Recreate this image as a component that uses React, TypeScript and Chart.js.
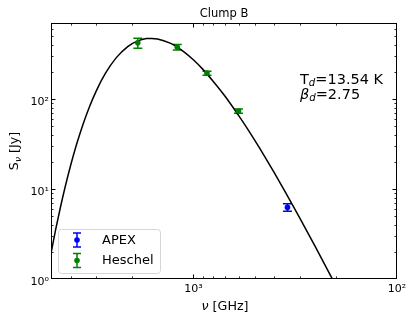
import React, { useEffect, useRef } from 'react';
import { Chart, registerables } from 'chart.js';

Chart.register(...registerables);

// ---- data ----
const chartTitle = 'Clump B';
const apexLabel = 'APEX';
const herschelLabel = 'Heschel';

const apexFreq = [345];
const apexFlux = [6.25];
const apexErr = [0.6];

const herschelFreq = [1874, 1199, 857, 600];
const herschelFlux = [421, 377, 194, 73.6];
const herschelErr = [53, 26, 10, 4];

const modelFreq = [5000, 4750, 4500, 4250, 4000, 3750, 3500, 3250, 3000, 2700, 2400, 2100, 1900, 1700, 1600, 1500, 1300, 1200, 1100, 1000, 900, 800, 700, 600, 550, 500, 450, 400, 350, 300, 250, 200];
const modelFlux = [1.93, 3.49, 6.19, 10.8, 18.5, 31.0, 50.6, 80.1, 122.6, 193.6, 285, 383, 437, 470, 472, 466, 418, 377, 328, 273, 215, 158, 108, 65.8, 49.0, 34.9, 23.7, 15.1, 8.91, 4.76, 2.22, 0.85];

const xTickValues = [1000, 100];
const xTickLabels = ['10³', '10²'];
const xMinorTicks = [200, 300, 400, 500, 600, 700, 800, 900, 2000, 3000, 4000, 5000];
const yTickValues = [1, 10, 100];
const yTickLabels = ['10⁰', '10¹', '10²'];
const yMinorTicks = [2, 3, 4, 5, 6, 7, 8, 9, 20, 30, 40, 50, 60, 70, 80, 90, 200, 300, 400, 500, 600, 700];

const tempText = '=13.54 K';
const betaText = '=2.75';

const FONT = '"DejaVu Sans", sans-serif';
const APEX_COLOR = '#0000ff';
const HERSCHEL_COLOR = '#008000';

type Run = { text: string; size: number; italic?: boolean; dy?: number };

function runsWidth(ctx: CanvasRenderingContext2D, runs: Run[]) {
  let w = 0;
  for (const r of runs) {
    ctx.font = `${r.italic ? 'italic ' : ''}${r.size}px ${FONT}`;
    w += ctx.measureText(r.text).width;
  }
  return w;
}

function drawRuns(ctx: CanvasRenderingContext2D, x: number, y: number, runs: Run[]) {
  let cx = x;
  ctx.textBaseline = 'alphabetic';
  ctx.textAlign = 'left';
  for (const r of runs) {
    ctx.font = `${r.italic ? 'italic ' : ''}${r.size}px ${FONT}`;
    ctx.fillText(r.text, cx, y + (r.dy || 0));
    cx += ctx.measureText(r.text).width;
  }
}

function drawErrorBar(ctx: CanvasRenderingContext2D, px: number, top: number, bot: number, color: string, cap: number) {
  ctx.strokeStyle = color;
  ctx.lineWidth = 1.5;
  ctx.beginPath();
  ctx.moveTo(px, top);
  ctx.lineTo(px, bot);
  ctx.moveTo(px - cap, top);
  ctx.lineTo(px + cap, top);
  ctx.moveTo(px - cap, bot);
  ctx.lineTo(px + cap, bot);
  ctx.stroke();
}

const sedPlugin = {
  id: 'sedPlugin',
  beforeDatasetsDraw(chart: any) {
    const { ctx, scales } = chart;
    const x = scales.x;
    const y = scales.y;
    const sets = [
      { f: apexFreq, v: apexFlux, e: apexErr, c: APEX_COLOR },
      { f: herschelFreq, v: herschelFlux, e: herschelErr, c: HERSCHEL_COLOR },
    ];
    ctx.save();
    for (const s of sets) {
      s.f.forEach((f, i) => {
        const px = x.getPixelForValue(f);
        const top = y.getPixelForValue(s.v[i] + s.e[i]);
        const bot = y.getPixelForValue(s.v[i] - s.e[i]);
        drawErrorBar(ctx, px, top, bot, s.c, 4.5);
      });
    }
    ctx.restore();
  },
  afterDraw(chart: any) {
    const { ctx, chartArea, scales } = chart;
    const { left, right, top, bottom } = chartArea;
    const x = scales.x;
    const y = scales.y;
    ctx.save();

    // frame
    ctx.strokeStyle = '#000';
    ctx.lineWidth = 1;
    ctx.strokeRect(left + 0.5, top + 0.5, right - left - 1, bottom - top - 1);

    // inward ticks on all four sides
    const tick = (vals: number[], len: number, horiz: boolean, lw: number) => {
      ctx.lineWidth = lw;
      ctx.beginPath();
      for (const v of vals) {
        if (horiz) {
          const p = Math.round(x.getPixelForValue(v)) + 0.5;
          if (p < left || p > right) continue;
          ctx.moveTo(p, bottom);
          ctx.lineTo(p, bottom - len);
          ctx.moveTo(p, top);
          ctx.lineTo(p, top + len);
        } else {
          const p = Math.round(y.getPixelForValue(v)) + 0.5;
          if (p < top || p > bottom) continue;
          ctx.moveTo(left, p);
          ctx.lineTo(left + len, p);
          ctx.moveTo(right, p);
          ctx.lineTo(right - len, p);
        }
      }
      ctx.stroke();
    };
    tick(xTickValues, 4.5, true, 1);
    tick(xMinorTicks, 2.6, true, 0.8);
    tick(yTickValues, 4.5, false, 1);
    tick(yMinorTicks, 2.6, false, 0.8);

    ctx.fillStyle = '#000';

    // title
    ctx.font = `11.5px ${FONT}`;
    ctx.textAlign = 'center';
    ctx.textBaseline = 'alphabetic';
    ctx.fillText(chartTitle, (left + right) / 2, 16.7);

    // x axis title
    const xRuns: Run[] = [
      { text: 'ν', size: 12.7, italic: true },
      { text: ' [GHz]', size: 12.7 },
    ];
    const xw = runsWidth(ctx, xRuns);
    drawRuns(ctx, (left + right) / 2 + 1 - xw / 2, 309.5, xRuns);

    // y axis title
    const yRuns: Run[] = [
      { text: 'S', size: 12.7 },
      { text: 'ν', size: 9, italic: true, dy: 2.5 },
      { text: ' [Jy]', size: 12.7 },
    ];
    const yw = runsWidth(ctx, yRuns);
    ctx.save();
    ctx.translate(18.3, (top + bottom) / 2);
    ctx.rotate(-Math.PI / 2);
    drawRuns(ctx, -yw / 2, 0, yRuns);
    ctx.restore();

    // annotation
    drawRuns(ctx, 300, 83.5, [
      { text: 'T', size: 14.5 },
      { text: 'd', size: 10.2, italic: true, dy: 2.5 },
      { text: tempText, size: 14.5 },
    ]);
    drawRuns(ctx, 300, 98.5, [
      { text: 'β', size: 14.5, italic: true },
      { text: 'd', size: 10.2, italic: true, dy: 2.5 },
      { text: betaText, size: 14.5 },
    ]);

    // legend
    const lx = 58.5, ly = 229.5, lw = 102, lh = 44, r = 3;
    ctx.beginPath();
    ctx.moveTo(lx + r, ly);
    ctx.lineTo(lx + lw - r, ly);
    ctx.quadraticCurveTo(lx + lw, ly, lx + lw, ly + r);
    ctx.lineTo(lx + lw, ly + lh - r);
    ctx.quadraticCurveTo(lx + lw, ly + lh, lx + lw - r, ly + lh);
    ctx.lineTo(lx + r, ly + lh);
    ctx.quadraticCurveTo(lx, ly + lh, lx, ly + lh - r);
    ctx.lineTo(lx, ly + r);
    ctx.quadraticCurveTo(lx, ly, lx + r, ly);
    ctx.closePath();
    ctx.fillStyle = 'rgba(255,255,255,0.8)';
    ctx.fill();
    ctx.strokeStyle = '#d6d6d6';
    ctx.lineWidth = 1;
    ctx.stroke();

    const entries = [
      { label: apexLabel, color: APEX_COLOR, cy: 240 },
      { label: herschelLabel, color: HERSCHEL_COLOR, cy: 260.5 },
    ];
    for (const e of entries) {
      drawErrorBar(ctx, 77, e.cy - 7, e.cy + 7, e.color, 4);
      ctx.fillStyle = e.color;
      ctx.beginPath();
      ctx.arc(77, e.cy, 2.8, 0, Math.PI * 2);
      ctx.fill();
      ctx.fillStyle = '#000';
      ctx.font = `13px ${FONT}`;
      ctx.textAlign = 'left';
      ctx.textBaseline = 'middle';
      ctx.fillText(e.label, 102, e.cy + 0.5);
    }

    ctx.restore();
  },
};

export default function App() {
  const canvasRef = useRef<HTMLCanvasElement | null>(null);

  useEffect(() => {
    const canvas = canvasRef.current;
    if (!canvas) return;
    const chart = new Chart(canvas, {
      type: 'scatter',
      data: {
        datasets: [
          {
            label: apexLabel,
            data: apexFreq.map((f, i) => ({ x: f, y: apexFlux[i] })),
            backgroundColor: APEX_COLOR,
            borderColor: APEX_COLOR,
            pointRadius: 2.8,
            pointBorderWidth: 0,
          },
          {
            label: herschelLabel,
            data: herschelFreq.map((f, i) => ({ x: f, y: herschelFlux[i] })),
            backgroundColor: HERSCHEL_COLOR,
            borderColor: HERSCHEL_COLOR,
            pointRadius: 2.8,
            pointBorderWidth: 0,
          },
          {
            label: 'model',
            data: modelFreq.map((f, i) => ({ x: f, y: modelFlux[i] })),
            showLine: true,
            borderColor: '#000',
            borderWidth: 1.5,
            pointRadius: 0,
            tension: 0.4,
            cubicInterpolationMode: 'monotone',
            clip: 0,
            order: 1,
          } as any,
        ],
      },
      options: {
        responsive: false,
        animation: false,
        events: [],
        layout: { padding: { top: 23, right: 18, bottom: 0, left: 0 } },
        plugins: {
          legend: { display: false },
          title: { display: false },
          tooltip: { enabled: false },
        },
        scales: {
          x: {
            type: 'logarithmic',
            reverse: true,
            min: 100,
            max: 5000,
            grid: { display: false, drawTicks: false },
            border: { display: false },
            afterBuildTicks: (scale: any) => {
              scale.ticks = xTickValues.map((v) => ({ value: v }));
            },
            afterFit: (scale: any) => {
              scale.height = 42;
            },
            ticks: {
              autoSkip: false,
              maxRotation: 0,
              padding: 4,
              color: '#000',
              font: { family: FONT, size: 11 },
              callback: (v: any) => {
                const i = xTickValues.indexOf(Number(v));
                return i >= 0 ? xTickLabels[i] : '';
              },
            },
          },
          y: {
            type: 'logarithmic',
            min: 1,
            max: 700,
            grid: { display: false, drawTicks: false },
            border: { display: false },
            afterBuildTicks: (scale: any) => {
              scale.ticks = yTickValues.map((v) => ({ value: v }));
            },
            afterFit: (scale: any) => {
              scale.width = 51;
            },
            ticks: {
              autoSkip: false,
              padding: 2,
              labelOffset: 3.5,
              color: '#000',
              font: { family: FONT, size: 11 },
              callback: (v: any) => {
                const i = yTickValues.indexOf(Number(v));
                return i >= 0 ? yTickLabels[i] : '';
              },
            },
          },
        },
      },
      plugins: [sedPlugin],
    } as any);
    return () => chart.destroy();
  }, []);

  return (
    <div style={{ position: 'fixed', left: 0, top: 0, width: 415, height: 321, background: '#fff' }}>
      <canvas ref={canvasRef} width={415} height={321} style={{ display: 'block' }} />
    </div>
  );
}
